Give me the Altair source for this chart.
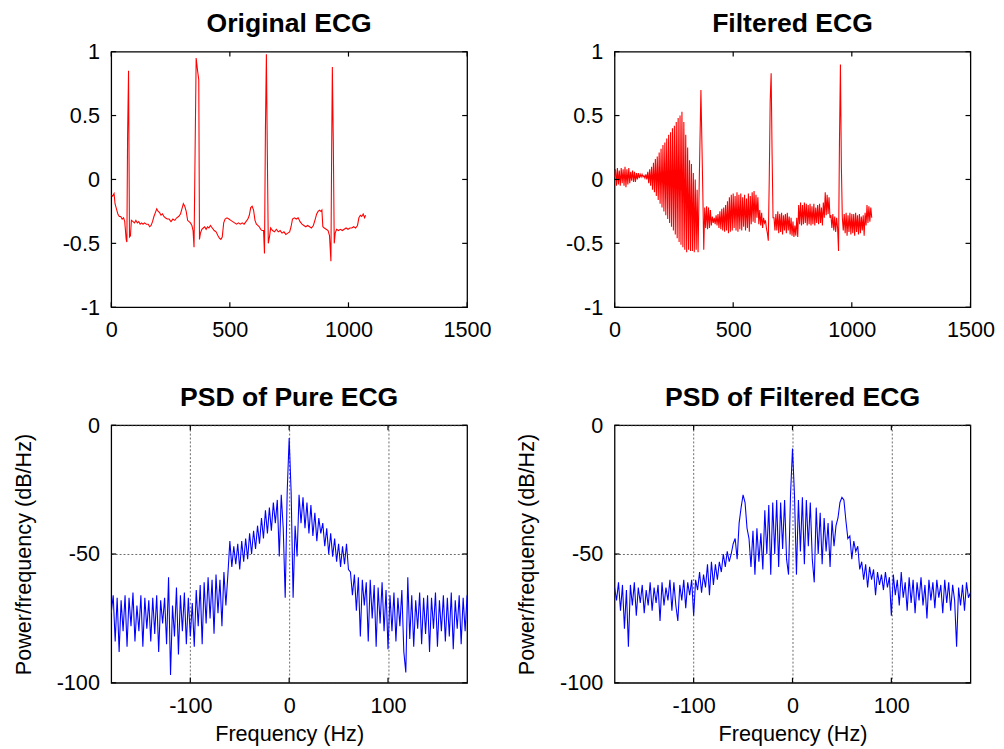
import altair as alt
import pandas as pd

# ---------------- data ----------------
orig_x = [0, 6, 12, 16, 22, 28, 34, 40, 46, 52, 57, 63, 66, 69, 73, 77, 81, 85, 92, 98,
          104, 110, 116, 122, 128, 134, 140, 148, 156, 162, 168, 174, 180, 186, 192, 198, 204, 210, 216, 222,
          228, 236, 244, 252, 260, 268, 276, 284, 292, 298, 304, 310, 316, 322, 328, 334, 340, 345, 349, 354,
          358, 364, 369, 372, 376, 382, 388, 394, 400, 406, 412, 418, 426, 434, 442, 450, 456, 462, 468, 474,
          480, 488, 496, 504, 512, 520, 528, 536, 544, 552, 560, 568, 576, 582, 588, 594, 600, 606, 612, 618,
          624, 630, 636, 642, 646, 650, 654, 658, 662, 667, 672, 680, 688, 696, 704, 712, 720, 728, 736, 744,
          752, 758, 764, 772, 780, 788, 796, 804, 812, 820, 828, 836, 844, 852, 860, 866, 872, 878, 884, 888,
          892, 898, 906, 914, 920, 926, 929, 932, 936, 940, 944, 950, 958, 966, 974, 982, 990, 998, 1006, 1014,
          1022, 1030, 1038, 1044, 1050, 1056, 1062, 1068, 1072]
orig_y = [-0.12, -0.13, -0.11, -0.19, -0.23, -0.27, -0.29, -0.29, -0.31, -0.30, -0.33, -0.47, -0.49, 0.35, 0.85, -0.45, -0.44, -0.32, -0.33, -0.34,
          -0.32, -0.34, -0.33, -0.35, -0.34, -0.35, -0.34, -0.35, -0.35, -0.37, -0.36, -0.33, -0.29, -0.26, -0.23, -0.25, -0.26, -0.28, -0.27, -0.29,
          -0.30, -0.31, -0.31, -0.33, -0.31, -0.32, -0.30, -0.29, -0.27, -0.23, -0.19, -0.21, -0.25, -0.32, -0.33, -0.34, -0.36, -0.40, -0.53, 0.30,
          0.95, 0.85, 0.78, -0.47, -0.42, -0.39, -0.38, -0.37, -0.39, -0.37, -0.38, -0.36, -0.38, -0.40, -0.41, -0.44, -0.46, -0.47, -0.45, -0.34,
          -0.31, -0.30, -0.31, -0.32, -0.33, -0.34, -0.35, -0.34, -0.35, -0.34, -0.35, -0.33, -0.31, -0.28, -0.22, -0.21, -0.24, -0.32, -0.35, -0.36,
          -0.37, -0.39, -0.40, -0.40, -0.58, 0.40, 0.98, 0.20, -0.50, -0.45, -0.38, -0.40, -0.41, -0.39, -0.41, -0.40, -0.42, -0.41, -0.43, -0.42,
          -0.41, -0.37, -0.31, -0.30, -0.31, -0.30, -0.33, -0.35, -0.36, -0.37, -0.36, -0.37, -0.38, -0.36, -0.31, -0.27, -0.25, -0.24, -0.25, -0.24,
          -0.37, -0.38, -0.39, -0.40, -0.44, -0.64, 0.20, 0.88, 0.30, -0.50, -0.42, -0.39, -0.40, -0.39, -0.40, -0.39, -0.38, -0.39, -0.38, -0.38,
          -0.37, -0.38, -0.36, -0.30, -0.28, -0.29, -0.27, -0.30, -0.28]

# filtered ECG, one value every 4 samples (0, 4, 8, ...)
filt_y = [0.02, 0.08, -0.05, 0.09, -0.04, 0.07, -0.05, 0.09, -0.03, 0.08,
          -0.05, 0.10, -0.06, 0.08, -0.04, 0.09, -0.03, 0.06, -0.01, 0.07,
          -0.02, 0.06, -0.02, 0.05, 0.00, 0.05, 0.01, 0.04, 0.02, 0.04,
          0.02, 0.03, 0.01, 0.04, 0.00, 0.06, -0.03, 0.08, -0.05, 0.10,
          -0.08, 0.13, -0.10, 0.16, -0.13, 0.18, -0.16, 0.21, -0.19, 0.24,
          -0.22, 0.27, -0.25, 0.29, -0.28, 0.32, -0.31, 0.35, -0.34, 0.37,
          -0.37, 0.40, -0.40, 0.42, -0.43, 0.45, -0.46, 0.48, -0.49, 0.50,
          -0.51, 0.53, -0.53, 0.45, -0.55, 0.35, -0.57, 0.25, -0.55, 0.15,
          -0.56, 0.12, -0.56, 0.05, -0.57, 0.00, -0.55, -0.08, -0.57, -0.12,
          0.30, 0.70, 0.30, -0.10, -0.55, -0.22, -0.38, -0.21, -0.39, -0.22,
          -0.38, -0.24, -0.36, -0.29, -0.34, -0.30, -0.35, -0.28, -0.36, -0.27,
          -0.38, -0.25, -0.39, -0.23, -0.40, -0.22, -0.41, -0.20, -0.40, -0.17,
          -0.42, -0.14, -0.41, -0.12, -0.40, -0.11, -0.38, -0.13, -0.40, -0.10,
          -0.41, -0.12, -0.39, -0.11, -0.40, -0.14, -0.37, -0.12, -0.40, -0.15,
          -0.38, -0.11, -0.41, -0.13, -0.35, -0.10, -0.33, -0.09, -0.34, -0.12,
          -0.30, -0.14, -0.35, -0.24, -0.36, -0.26, -0.38, -0.30, -0.34, -0.32,
          -0.38, -0.42, -0.48, 0.00, 0.62, 0.83, 0.20, -0.30, -0.30, -0.40,
          -0.27, -0.40, -0.25, -0.42, -0.27, -0.41, -0.26, -0.43, -0.28, -0.40,
          -0.27, -0.42, -0.26, -0.40, -0.29, -0.43, -0.30, -0.44, -0.33, -0.45,
          -0.36, -0.44, -0.30, -0.45, -0.20, -0.35, -0.18, -0.36, -0.20, -0.35,
          -0.18, -0.34, -0.19, -0.36, -0.20, -0.35, -0.19, -0.36, -0.21, -0.35,
          -0.19, -0.36, -0.22, -0.34, -0.20, -0.35, -0.19, -0.34, -0.22, -0.36,
          -0.18, -0.30, -0.10, -0.28, -0.12, -0.27, -0.14, -0.30, -0.28, -0.38,
          -0.27, -0.40, -0.29, -0.41, -0.30, -0.38, -0.56, 0.30, 0.90, 0.10,
          -0.30, -0.40, -0.27, -0.42, -0.26, -0.44, -0.28, -0.41, -0.26, -0.43,
          -0.27, -0.42, -0.27, -0.44, -0.26, -0.41, -0.28, -0.43, -0.27, -0.42,
          -0.29, -0.40, -0.28, -0.44, -0.26, -0.36, -0.20, -0.34, -0.21, -0.33,
          -0.22, -0.30]
filt_x = [4 * i for i in range(len(filt_y))]

# PSD, frequencies -180 .. 180 Hz every 2 Hz
freq = list(range(-180, 181, 2))
psd_pure = [-73, -66, -84, -67, -88, -68, -80, -66, -86, -67,
            -78, -65, -84, -70, -80, -66, -86, -67, -79, -68,
            -84, -67, -81, -66, -88, -68, -77, -67, -85, -59,
            -97, -70, -82, -63, -89, -66, -80, -65, -85, -67,
            -82, -69, -86, -64, -78, -62, -85, -61, -77, -59,
            -75, -60, -81, -58, -73, -60, -78, -57, -70, -58,
            -45, -55, -47, -54, -46, -56, -45, -53, -44, -52,
            -42, -50, -41, -48, -39, -46, -36, -44, -33, -42,
            -32, -41, -30, -38, -29, -51, -27, -40, -67, -26,
            -5,
            -26, -67, -39, -51, -27, -38, -28, -40, -30, -42,
            -31, -43, -34, -45, -36, -42, -38, -47, -40, -50,
            -42, -51, -44, -53, -46, -55, -47, -54, -46, -56,
            -57, -66, -58, -72, -59, -82, -60, -70, -61, -84,
            -60, -75, -62, -86, -63, -77, -61, -80, -64, -87,
            -66, -80, -65, -84, -67, -78, -64, -88, -96, -59,
            -83, -66, -86, -68, -79, -65, -85, -67, -81, -66,
            -88, -67, -79, -65, -86, -68, -80, -66, -84, -67,
            -82, -65, -87, -68, -79, -66, -85, -67, -80, -66]
psd_filt = [-63, -68, -61, -72, -62, -79, -64, -86, -62, -70,
            -61, -74, -63, -69, -62, -73, -64, -70, -61, -72,
            -63, -69, -62, -76, -61, -70, -63, -68, -60, -72,
            -61, -70, -76, -62, -68, -60, -71, -61, -66, -60,
            -74, -60, -64, -57, -65, -58, -63, -54, -66, -53,
            -62, -54, -60, -53, -57, -50, -55, -49, -53, -50,
            -46, -44, -52, -38, -32, -27, -30, -40, -44, -55,
            -41, -58, -40, -53, -42, -56, -33, -50, -31, -58,
            -30, -50, -29, -55, -30, -48, -29, -52, -58, -27,
            -9,
            -27, -58, -29, -49, -28, -54, -29, -47, -30, -52,
            -61, -32, -50, -34, -54, -36, -49, -38, -55, -37,
            -47, -39, -36, -30, -28, -29, -37, -44, -43, -52,
            -45, -49, -47, -56, -53, -60, -54, -63, -55, -60,
            -56, -66, -57, -62, -58, -64, -57, -63, -59, -74,
            -58, -66, -60, -70, -57, -67, -61, -72, -59, -69,
            -60, -73, -61, -68, -59, -70, -62, -75, -60, -68,
            -61, -71, -60, -67, -62, -73, -60, -69, -61, -72,
            -62, -68, -86, -63, -70, -62, -72, -61, -67, -65]

ecg_xticks = [0, 500, 1000, 1500]
ecg_yticks = [-1, -0.5, 0, 0.5, 1]
psd_xticks = [-100, 0, 100]
psd_yticks = [-100, -50, 0]

# ---------------- styling ----------------
FONT = "Liberation Sans"
W = 362
TICK = 5
YTITLE = "Power/frequency (dB/Hz)"


def panel(xs, ys, color, title, xdom, ydom, xticks, yticks, grid, xtitle, show_ytitle, H):
    df = pd.DataFrame({"x": xs, "y": ys})
    xsc = alt.Scale(domain=xdom, nice=False, zero=False)
    ysc = alt.Scale(domain=ydom, nice=False, zero=False)
    xaxis = alt.Axis(values=xticks, ticks=False, domain=False, grid=grid,
                     gridDash=[2, 2], gridColor="#444444", gridOpacity=1, gridWidth=0.8,
                     labelExpr="datum.value + ''", labelFont=FONT, labelFontSize=22,
                     labelColor="black", labelPadding=13, labelFlush=False, labelOverlap=False,
                     title=xtitle if xtitle else "", titleFont=FONT, titleFontSize=22,
                     titleFontWeight="normal", titleColor="black", titlePadding=8)
    yaxis = alt.Axis(values=yticks, ticks=False, domain=False, grid=grid,
                     gridDash=[2, 2], gridColor="#444444", gridOpacity=1, gridWidth=0.8,
                     labelExpr="datum.value + ''", labelFont=FONT, labelFontSize=22,
                     labelColor="black", labelPadding=12, minExtent=55, maxExtent=55,
                     labelOverlap=False,
                     title=YTITLE, titleFont=FONT, titleFontSize=22, titleFontWeight="normal",
                     titleColor="black", titlePadding=22, titleOpacity=1 if show_ytitle else 0)
    xenc = alt.X("x:Q", scale=xsc, axis=xaxis)
    yenc = alt.Y("y:Q", scale=ysc, axis=yaxis)
    line = alt.Chart(df).mark_line(color=color, strokeWidth=1.1, clip=True).encode(x=xenc, y=yenc)
    tx = pd.DataFrame({"x": xticks})
    ty = pd.DataFrame({"y": yticks})
    rule = dict(color="black", strokeWidth=1.2)
    bt = alt.Chart(tx).mark_rule(**rule).encode(x=xenc, y=alt.value(H), y2=alt.value(H - TICK))
    tt = alt.Chart(tx).mark_rule(**rule).encode(x=xenc, y=alt.value(0), y2=alt.value(TICK))
    lt = alt.Chart(ty).mark_rule(**rule).encode(y=yenc, x=alt.value(0), x2=alt.value(TICK))
    rt = alt.Chart(ty).mark_rule(**rule).encode(y=yenc, x=alt.value(W), x2=alt.value(W - TICK))
    return alt.layer(line, bt, tt, lt, rt).properties(
        width=W, height=H,
        title=alt.TitleParams(title, font=FONT, fontSize=27, fontWeight="bold",
                              color="black", anchor="middle", offset=3),
    )


p1 = panel(orig_x, orig_y, "#FF0000", "Original ECG", [0, 1500], [-1, 1],
           ecg_xticks, ecg_yticks, False, None, False, 260)
p2 = panel(filt_x, filt_y, "#FF0000", "Filtered ECG", [0, 1500], [-1, 1],
           ecg_xticks, ecg_yticks, False, None, False, 260)
p3 = panel(freq, psd_pure, "#0000FF", "PSD of Pure ECG", [-180, 180], [-100, 0],
           psd_xticks, psd_yticks, True, "Frequency (Hz)", True, 262)
p4 = panel(freq, psd_filt, "#0000FF", "PSD of Filtered ECG", [-180, 180], [-100, 0],
           psd_xticks, psd_yticks, True, "Frequency (Hz)", True, 262)

chart = alt.concat(p1, p2, p3, p4, columns=2, spacing={"row": 42, "column": 23}).properties(
    padding={"left": 4, "top": -5, "right": 0, "bottom": 0},
    background="white",
).configure_view(stroke="black", strokeWidth=1.3)

chart.save("out.html", embed_options={"renderer": "svg", "actions": False})
